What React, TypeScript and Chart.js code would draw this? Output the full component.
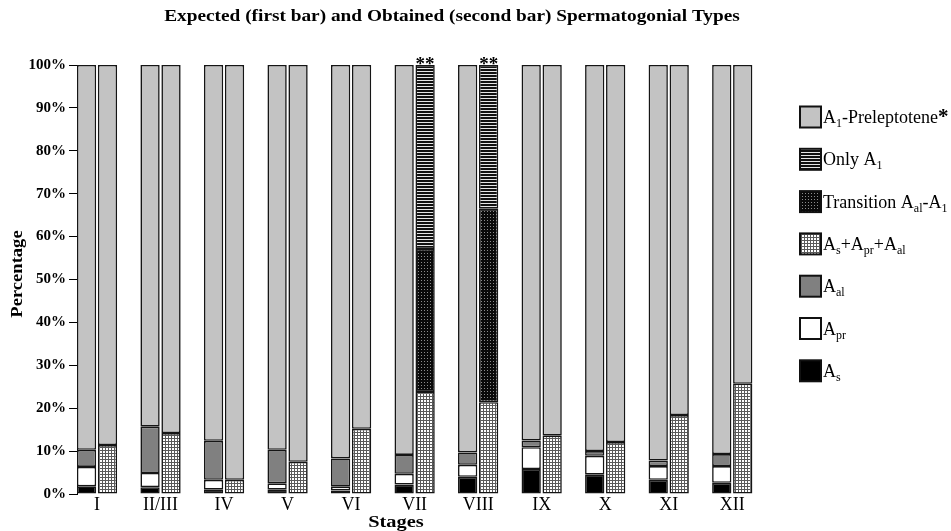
import React, { useEffect, useRef } from 'react';
import { Chart, registerables } from 'chart.js';

Chart.register(...registerables);

// ---------- data ----------
const stages = ['I', 'II/III', 'IV', 'V', 'VI', 'VII', 'VIII', 'IX', 'X', 'XI', 'XII'];

// Expected (first bar), bottom to top
const expAs = [1.8, 1.6, 1.0, 1.0, 0.8, 2.2, 4.0, 5.8, 4.5, 3.3, 2.6];
const expApr = [4.5, 3.3, 2.3, 1.5, 0.9, 2.5, 2.8, 5.1, 4.4, 3.2, 3.9];
const expAal = [4.0, 10.8, 9.1, 7.8, 6.6, 4.4, 2.9, 1.6, 1.1, 1.3, 2.8];
const expA1Prelep = [89.7, 84.3, 87.6, 89.7, 91.7, 90.9, 90.3, 87.5, 90.0, 92.2, 90.7];

// Obtained (second bar), bottom to top
const obtAsAprAal = [11.4, 14.2, 3.3, 7.5, 15.2, 23.8, 21.4, 13.6, 12.1, 18.4, 25.7];
const obtTransition = [null, null, null, null, null, 33.3, 45.1, null, null, null, null];
const obtOnlyA1 = [null, null, null, null, null, 42.9, 33.5, null, null, null, null];
const obtA1Prelep = [88.6, 85.8, 96.7, 92.5, 84.8, null, null, 86.4, 87.9, 81.6, 74.3];

const yTickValues = [0, 10, 20, 30, 40, 50, 60, 70, 80, 90, 100];
const significantStages = ['VII', 'VIII'];

const titleText = 'Expected (first bar) and Obtained (second bar) Spermatogonial Types';
const yTitle = 'Percentage';
const xTitle = 'Stages';

type Seg = { t: string; sub?: boolean; sup?: boolean; bold?: boolean };
const legendLabels: Seg[][] = [
  [{ t: 'A' }, { t: '1', sub: true }, { t: '-Preleptotene' }, { t: '*', sup: true, bold: true }],
  [{ t: 'Only A' }, { t: '1', sub: true }],
  [{ t: 'Transition A' }, { t: 'al', sub: true }, { t: '-A' }, { t: '1', sub: true }],
  [{ t: 'A' }, { t: 's', sub: true }, { t: '+A' }, { t: 'pr', sub: true }, { t: '+A' }, { t: 'al', sub: true }],
  [{ t: 'A' }, { t: 'al', sub: true }],
  [{ t: 'A' }, { t: 'pr', sub: true }],
  [{ t: 'A' }, { t: 's', sub: true }],
];

const SERIF = '"Liberation Serif", "Times New Roman", serif';

function makePattern(w: number, h: number, draw: (g: CanvasRenderingContext2D) => void): CanvasPattern {
  const c = document.createElement('canvas');
  c.width = w;
  c.height = h;
  const g = c.getContext('2d') as CanvasRenderingContext2D;
  draw(g);
  return g.createPattern(c, 'repeat') as CanvasPattern;
}

function drawStretched(
  ctx: CanvasRenderingContext2D,
  text: string,
  x: number,
  y: number,
  font: string,
  sx: number,
  rot = 0
) {
  ctx.save();
  ctx.translate(x, y);
  if (rot) ctx.rotate(rot);
  ctx.scale(sx, 1);
  ctx.font = font;
  ctx.textAlign = 'center';
  ctx.textBaseline = 'alphabetic';
  ctx.fillText(text, 0, 0);
  ctx.restore();
}

function drawRich(ctx: CanvasRenderingContext2D, segs: Seg[], x: number, y: number) {
  let cx = x;
  ctx.textAlign = 'left';
  ctx.textBaseline = 'alphabetic';
  for (const s of segs) {
    const size = s.sub ? 12 : s.sup ? 21 : 18;
    ctx.font = `${s.bold ? 'bold ' : ''}${size}px ${SERIF}`;
    const dy = s.sub ? 4 : 0;
    ctx.fillText(s.t, cx, y + dy);
    cx += ctx.measureText(s.t).width;
  }
}

export default function App() {
  const ref = useRef<HTMLCanvasElement | null>(null);

  useEffect(() => {
    document.body.style.margin = '0';
    const canvas = ref.current;
    if (!canvas) return;

    const lightGray = '#c3c3c3';
    const darkGray = '#808080';
    const stripes = makePattern(4, 3, (g) => {
      g.fillStyle = '#111';
      g.fillRect(0, 0, 4, 3);
      g.fillStyle = '#e6e6e6';
      g.fillRect(0, 2, 4, 1);
    });
    const transition = makePattern(3, 3, (g) => {
      g.fillStyle = '#0a0a0a';
      g.fillRect(0, 0, 3, 3);
      g.fillStyle = '#8c8c8c';
      g.fillRect(1, 1, 1, 1);
    });
    const dotted = makePattern(3, 3, (g) => {
      g.fillStyle = '#5a5a5a';
      g.fillRect(0, 0, 3, 3);
      g.fillStyle = '#ffffff';
      g.fillRect(1, 1, 2, 2);
    });

    const legendFills: (string | CanvasPattern)[] = [lightGray, stripes, transition, dotted, darkGray, '#ffffff', '#000000'];

    const pts = (arr: (number | null)[]) => arr.map((v, i) => ({ x: i, y: v }));
    const common = {
      borderColor: '#151515',
      borderWidth: 1.6,
      borderSkipped: false as const,
      categoryPercentage: 0.66,
      barPercentage: 0.92,
    };

    const datasets: any[] = [
      { label: 'As', data: pts(expAs), backgroundColor: '#000000', stack: 'expected', ...common },
      { label: 'Apr', data: pts(expApr), backgroundColor: '#ffffff', stack: 'expected', ...common },
      { label: 'Aal', data: pts(expAal), backgroundColor: darkGray, stack: 'expected', ...common },
      { label: 'A1-Preleptotene', data: pts(expA1Prelep), backgroundColor: lightGray, stack: 'expected', ...common },
      { label: 'As+Apr+Aal', data: pts(obtAsAprAal), backgroundColor: dotted, stack: 'obtained', ...common },
      { label: 'Transition Aal-A1', data: pts(obtTransition), backgroundColor: transition, stack: 'obtained', ...common },
      { label: 'Only A1', data: pts(obtOnlyA1), backgroundColor: stripes, stack: 'obtained', ...common },
      { label: 'A1-Preleptotene (obtained)', data: pts(obtA1Prelep), backgroundColor: lightGray, stack: 'obtained', ...common },
    ];
    const onlyA1Index = 6;

    const overlay = {
      id: 'overlay',
      afterDraw(chart: any) {
        const ctx: CanvasRenderingContext2D = chart.ctx;
        const area = chart.chartArea;
        ctx.save();
        ctx.fillStyle = '#000';

        // title
        drawStretched(ctx, titleText, 452, 21, `bold 16.5px ${SERIF}`, 1.17);
        // y title
        drawStretched(ctx, yTitle, 22, 274, `bold 16px ${SERIF}`, 1.16, -Math.PI / 2);
        // x title
        drawStretched(ctx, xTitle, 396, 527, `bold 17px ${SERIF}`, 1.2);

        // significance asterisks above obtained bars
        const meta = chart.getDatasetMeta(onlyA1Index);
        significantStages.forEach((s) => {
          const i = stages.indexOf(s);
          const el = meta.data[i];
          if (!el) return;
          ctx.font = `bold 19px ${SERIF}`;
          ctx.textAlign = 'center';
          ctx.textBaseline = 'alphabetic';
          ctx.fillText('**', el.x, area.top + 5);
        });

        // legend
        const lx = 800;
        const box = 21;
        legendLabels.forEach((segs, i) => {
          const cy = 117 + i * 42.3;
          ctx.fillStyle = legendFills[i] as any;
          ctx.fillRect(lx, cy - box / 2, box, box);
          ctx.strokeStyle = '#111';
          ctx.lineWidth = 2;
          ctx.strokeRect(lx, cy - box / 2, box, box);
          ctx.fillStyle = '#000';
          drawRich(ctx, segs, lx + box + 2, cy + 6);
        });
        ctx.restore();
      },
    };

    const chart = new Chart(canvas, {
      type: 'bar',
      data: { datasets },
      options: {
        responsive: false,
        animation: false,
        devicePixelRatio: 1,
        layout: { padding: { top: 65, right: 187, left: 0, bottom: 0 } },
        plugins: {
          legend: { display: false },
          title: { display: false },
          tooltip: { enabled: false },
        },
        scales: {
          x: {
            type: 'linear',
            min: -0.315,
            max: 10.5,
            offset: false,
            grid: { display: false },
            border: { display: false },
            ticks: {
              stepSize: 1,
              includeBounds: false,
              autoSkip: false,
              maxRotation: 0,
              minRotation: 0,
              padding: -8,
              color: '#000',
              font: { family: SERIF, size: 18 },
              callback: (v: any) => (Number.isInteger(v) && stages[v] !== undefined ? stages[v] : ''),
            },
            afterFit: (s: any) => {
              s.height = 37;
            },
          },
          y: {
            stacked: true,
            min: 0,
            max: 100,
            afterBuildTicks: (s: any) => {
              s.ticks = yTickValues.map((v) => ({ value: v }));
            },
            grid: {
              display: true,
              drawOnChartArea: false,
              drawTicks: true,
              tickLength: 8,
              color: '#000',
              lineWidth: 1,
            },
            border: { display: true, color: '#000', width: 1 },
            ticks: {
              padding: 3,
              color: '#000',
              font: { family: SERIF, size: 15, weight: 'bold' },
              callback: (v: any) => `${v}%`,
            },
            afterFit: (s: any) => {
              s.width = 77;
            },
          },
        },
      } as any,
      plugins: [overlay],
    });

    return () => chart.destroy();
  }, []);

  return (
    <div style={{ position: 'fixed', left: 0, top: 0, width: 951, height: 531, background: '#fff' }}>
      <canvas ref={ref} width={951} height={531} style={{ display: 'block' }} />
    </div>
  );
}
